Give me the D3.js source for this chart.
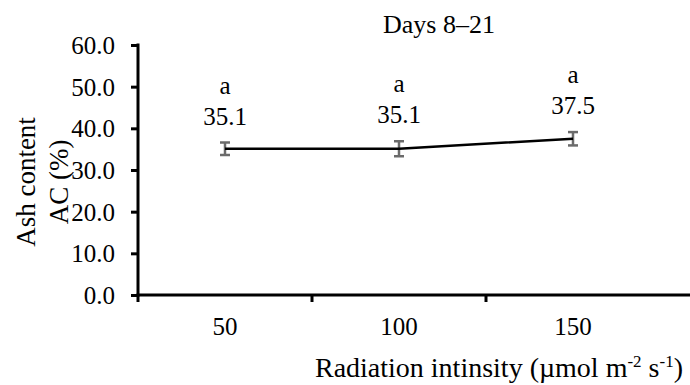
<!DOCTYPE html>
<html>
<head>
<meta charset="utf-8">
<script src="https://cdn.jsdelivr.net/npm/d3@7"></script>
<style>
  html, body { margin: 0; padding: 0; background: #fff; }
  svg { display: block; }
  svg text { font-family: "Liberation Serif", "Times New Roman", serif; fill: #000; }
</style>
</head>
<body>
<svg id="chart" width="690" height="385"></svg>
<script>
// Ash content over days 8–21 at three radiation intensities
const categories = ["50", "100", "150"];
const means = [35.1, 35.1, 37.5];
const errors = [1.5, 1.8, 1.6];
const letters = ["a", "a", "a"];
const yTicks = [0, 10, 20, 30, 40, 50, 60];

const svg = d3.select("#chart");
const plotLeft = 138, plotRight = 660, plotTop = 45, plotBottom = 295;
const fs = 25;

const x = d3.scaleBand().domain(categories).range([plotLeft, plotRight]);
const y = d3.scaleLinear().domain([0, 60]).range([plotBottom, plotTop]);
const cx = c => x(c) + x.bandwidth() / 2;

// Title
svg.append("text")
  .attr("x", 439).attr("y", 33)
  .attr("text-anchor", "middle")
  .attr("font-size", 26)
  .text("Days 8–21");

// Y axis
const yAxis = svg.append("g")
  .attr("transform", `translate(${plotLeft},0)`)
  .call(d3.axisLeft(y).tickValues(yTicks).tickFormat(d3.format(".1f")).tickSize(7).tickPadding(16));
yAxis.attr("font-family", null);
yAxis.select(".domain").attr("stroke", "#000").attr("stroke-width", 3).attr("d", `M0,${plotTop - 1.5}V${plotBottom + 1.5}`);
yAxis.selectAll(".tick line").attr("stroke", "#000").attr("stroke-width", 3);
yAxis.selectAll(".tick text").attr("font-size", fs).attr("dy", "0.34em");

// X axis: ticks between categories, labels at centers
const xg = svg.append("g").attr("transform", `translate(0,${plotBottom})`);
xg.append("line")
  .attr("x1", plotLeft - 1.5).attr("x2", 690)
  .attr("stroke", "#000").attr("stroke-width", 3);
xg.selectAll("line.tk").data(categories).join("line")
  .attr("class", "tk")
  .attr("x1", d => x(d)).attr("x2", d => x(d))
  .attr("y1", 0).attr("y2", 7)
  .attr("stroke", "#000").attr("stroke-width", 3);
xg.selectAll("text").data(categories).join("text")
  .attr("x", d => cx(d)).attr("y", 40)
  .attr("text-anchor", "middle")
  .attr("font-size", fs)
  .text(d => d);

// Axis titles
const xt = svg.append("text")
  .attr("x", 499).attr("y", 377)
  .attr("text-anchor", "middle")
  .attr("font-size", 28);
xt.append("tspan").text("Radiation intinsity (µmol m");
xt.append("tspan").attr("dy", -10).attr("font-size", 17).text("-2");
xt.append("tspan").attr("dy", 10).text(" s");
xt.append("tspan").attr("dy", -10).attr("font-size", 17).text("-1");
xt.append("tspan").attr("dy", 10).text(")");

const yt = svg.append("text")
  .attr("transform", "translate(0,182) rotate(-90)")
  .attr("text-anchor", "middle")
  .attr("font-size", 27);
yt.append("tspan").attr("x", 0).attr("y", 35).text("Ash content");
yt.append("tspan").attr("x", 0).attr("y", 68).text("AC (%)");

// Error bars
const eb = svg.append("g").attr("stroke", "#6b6b6b").attr("stroke-width", 2.5);
categories.forEach((c, i) => {
  const xx = cx(c);
  eb.append("line").attr("x1", xx).attr("x2", xx).attr("y1", y(means[i] + errors[i])).attr("y2", y(means[i] - errors[i]));
  eb.append("line").attr("x1", xx - 5).attr("x2", xx + 5).attr("y1", y(means[i] + errors[i])).attr("y2", y(means[i] + errors[i]));
  eb.append("line").attr("x1", xx - 5).attr("x2", xx + 5).attr("y1", y(means[i] - errors[i])).attr("y2", y(means[i] - errors[i]));
});

// Mean line
svg.append("path")
  .datum(means)
  .attr("fill", "none").attr("stroke", "#000").attr("stroke-width", 2.5)
  .attr("d", d3.line().x((d, i) => cx(categories[i])).y(d => y(d)));

// Value and letter labels
categories.forEach((c, i) => {
  const barTop = y(means[i] + errors[i]);
  svg.append("text")
    .attr("x", cx(c)).attr("y", barTop - 18)
    .attr("text-anchor", "middle").attr("font-size", fs)
    .text(means[i].toFixed(1));
  svg.append("text")
    .attr("x", cx(c)).attr("y", barTop - 49)
    .attr("text-anchor", "middle").attr("font-size", fs)
    .text(letters[i]);
});
</script>
</body>
</html>
